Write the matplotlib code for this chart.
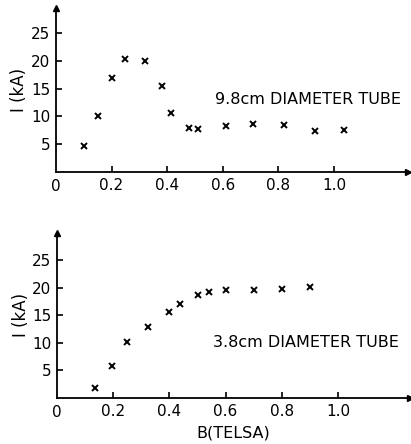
import matplotlib
matplotlib.use("Agg")
from matplotlib import pyplot as plt

# 9.8 cm tube
b_big = [0.10, 0.15, 0.20, 0.25, 0.32, 0.38, 0.415, 0.48, 0.51, 0.61, 0.71, 0.82, 0.93, 1.035]
i_big = [4.6, 10.0, 17.0, 20.3, 20.0, 15.5, 10.6, 8.0, 7.8, 8.3, 8.6, 8.4, 7.4, 7.6]

# 3.8 cm tube
b_small = [0.135, 0.195, 0.25, 0.325, 0.40, 0.438, 0.50, 0.54, 0.60, 0.70, 0.80, 0.90]
i_small = [1.9, 5.8, 10.1, 12.9, 15.7, 17.1, 18.75, 19.2, 19.6, 19.6, 19.8, 20.1]

x_ticks = [0.2, 0.4, 0.6, 0.8, 1.0]
x_labels = ["0.2", "0.4", "0.6", "0.8", "1.0"]
y_ticks = [5, 10, 15, 20, 25]

plt.rcParams['font.family'] = ['DejaVu Sans']

fig = plt.figure(figsize=(4.11, 4.44), dpi=100)
ax1 = fig.add_axes([0.136, 0.6126, 0.856, 0.369])
ax2 = fig.add_axes([0.139, 0.1036, 0.858, 0.372])


def style(ax, xmax, ymax):
    ax.set_xlim(0, xmax)
    ax.set_ylim(0, ymax)
    for s in ['top', 'right']:
        ax.spines[s].set_visible(False)
    ax.spines['left'].set_linewidth(1.3)
    ax.spines['bottom'].set_linewidth(1.3)
    ax.plot(1, 0, ">k", ms=4, transform=ax.transAxes, clip_on=False)
    ax.plot(0, 1, "^k", ms=4, transform=ax.transAxes, clip_on=False)
    ax.set_xticks(x_ticks)
    ax.set_xticklabels(x_labels)
    ax.set_yticks(y_ticks)
    ax.tick_params(direction='in', length=4, width=1.2, labelsize=11, pad=4)
    ax.text(0, -0.045, "0", transform=ax.get_xaxis_transform(), ha='center', va='top', fontsize=11)
    ax.set_ylabel("I (kA)", fontsize=12, labelpad=2)


style(ax1, 1.265, 29.5)
ax1.plot(b_big, i_big, 'x', color='k', ms=5, mew=1.4)
ax1.text(0.572, 13, "9.8cm DIAMETER TUBE", fontsize=11.5, va='center', ha='left')

style(ax2, 1.256, 30)
ax2.plot(b_small, i_small, 'x', color='k', ms=5, mew=1.4)
ax2.text(0.555, 10, "3.8cm DIAMETER TUBE", fontsize=11.5, va='center', ha='left')
ax2.set_xlabel("B(TELSA)", fontsize=11.5, labelpad=5)

fig.savefig("out.png", dpi=100)
